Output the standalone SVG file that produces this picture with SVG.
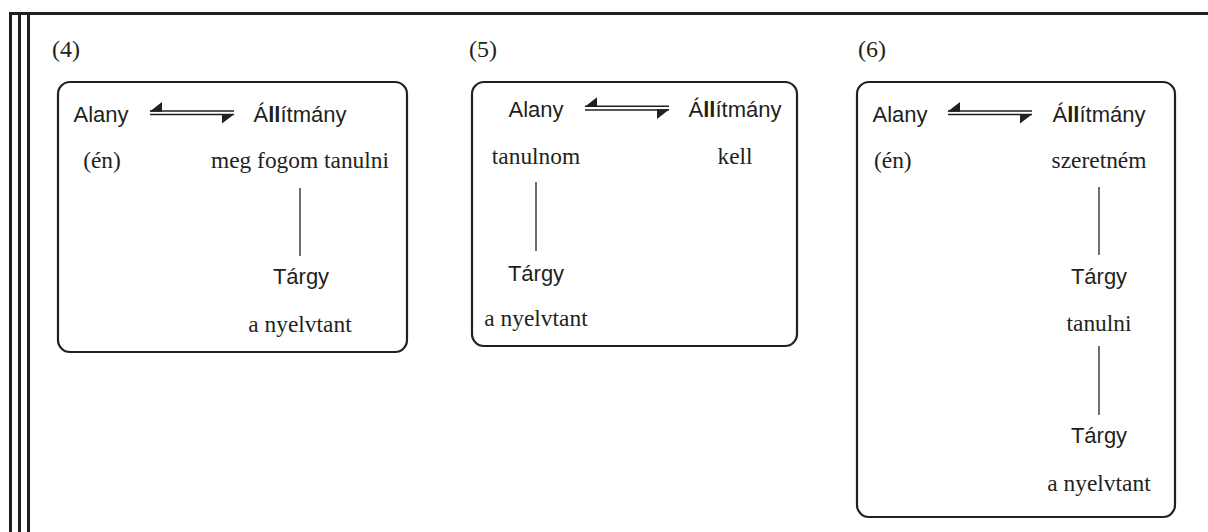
<svg xmlns="http://www.w3.org/2000/svg" width="1208" height="532" viewBox="0 0 1208 532">
<style>
.frame{fill:none;stroke:#231f20;stroke-width:3}
.box{fill:#fff;stroke:#231f20;stroke-width:2.2}
.lnk{stroke:#231f20;stroke-width:1.3;fill:none}
.sans{font-family:"Liberation Sans",Arial,sans-serif;font-size:22px;fill:#231f20}
.serif{font-family:"Liberation Serif","Times New Roman",serif;font-size:23.4px;fill:#231f20}
.num{font-family:"Liberation Serif","Times New Roman",serif;font-size:24px;fill:#231f20}
.mid{text-anchor:middle}
</style>
<defs>
<g id="eq">
<line x1="0" y1="0" x2="84" y2="0" stroke="#231f20" stroke-width="1.5"/>
<line x1="0" y1="3.6" x2="84" y2="3.6" stroke="#231f20" stroke-width="1.5"/>
<polygon points="-0.5,0.7 12,-9 12,0.7" fill="#231f20"/>
<polygon points="84.5,2.9 72,2.9 72,12.6" fill="#231f20"/>
</g>
</defs>
<rect width="1208" height="532" fill="#fff"/>
<g id="frame">
<line class="frame" x1="10.5" y1="12" x2="10.5" y2="532"/>
<line class="frame" x1="19.5" y1="12" x2="19.5" y2="532"/>
<line class="frame" x1="28.5" y1="12" x2="28.5" y2="532"/>
<line class="frame" x1="9" y1="13.5" x2="1208" y2="13.5"/>
</g>
<text class="num" x="52" y="57">(4)</text>
<text class="num" x="469" y="57">(5)</text>
<text class="num" x="858" y="57">(6)</text>
<g id="box4"><rect class="box" x="58" y="82" width="349" height="270" rx="12"/></g>
<g id="box5"><rect class="box" x="472" y="82" width="325" height="264" rx="12"/></g>
<g id="box6"><rect class="box" x="857" y="82" width="318" height="435" rx="12"/></g>
<g id="connectors">
<use href="#eq" x="150" y="111"/>
<use href="#eq" x="585" y="106.3"/>
<use href="#eq" x="948" y="111"/>
<line class="lnk" x1="300" y1="188" x2="300" y2="256"/>
<line class="lnk" x1="536" y1="182" x2="536" y2="251"/>
<line class="lnk" x1="1099" y1="187" x2="1099" y2="255"/>
<line class="lnk" x1="1099" y1="346" x2="1099" y2="415"/>
</g>
<g id="n4-alany"><text class="sans mid" x="101" y="122">Alany</text></g>
<g id="n4-allitmany"><text class="sans mid" x="300" y="122">Á<tspan font-weight="bold">ll</tspan>ítmány</text></g>
<g id="n4-en"><text class="serif mid" x="102" y="168">(én)</text></g>
<g id="n4-meg"><text class="serif mid" x="300" y="168">meg fogom tanulni</text></g>
<g id="n4-targy"><text class="sans mid" x="301" y="284">Tárgy</text></g>
<g id="n4-nyelvtant"><text class="serif mid" x="300" y="332">a nyelvtant</text></g>
<g id="n5-alany"><text class="sans mid" x="536" y="117">Alany</text></g>
<g id="n5-allitmany"><text class="sans mid" x="735" y="117">Á<tspan font-weight="bold">ll</tspan>ítmány</text></g>
<g id="n5-tanulnom"><text class="serif mid" x="536" y="164">tanulnom</text></g>
<g id="n5-kell"><text class="serif mid" x="735" y="164">kell</text></g>
<g id="n5-targy"><text class="sans mid" x="536" y="281">Tárgy</text></g>
<g id="n5-nyelvtant"><text class="serif mid" x="536" y="326">a nyelvtant</text></g>
<g id="n6-alany"><text class="sans mid" x="900" y="122">Alany</text></g>
<g id="n6-allitmany"><text class="sans mid" x="1099" y="122">Á<tspan font-weight="bold">ll</tspan>ítmány</text></g>
<g id="n6-en"><text class="serif" x="874" y="168">(én)</text></g>
<g id="n6-szeretnem"><text class="serif mid" x="1099" y="168">szeretném</text></g>
<g id="n6-targy1"><text class="sans mid" x="1099" y="284">Tárgy</text></g>
<g id="n6-tanulni"><text class="serif mid" x="1099" y="331">tanulni</text></g>
<g id="n6-targy2"><text class="sans mid" x="1099" y="443">Tárgy</text></g>
<g id="n6-nyelvtant"><text class="serif mid" x="1099" y="491">a nyelvtant</text></g>
</svg>
